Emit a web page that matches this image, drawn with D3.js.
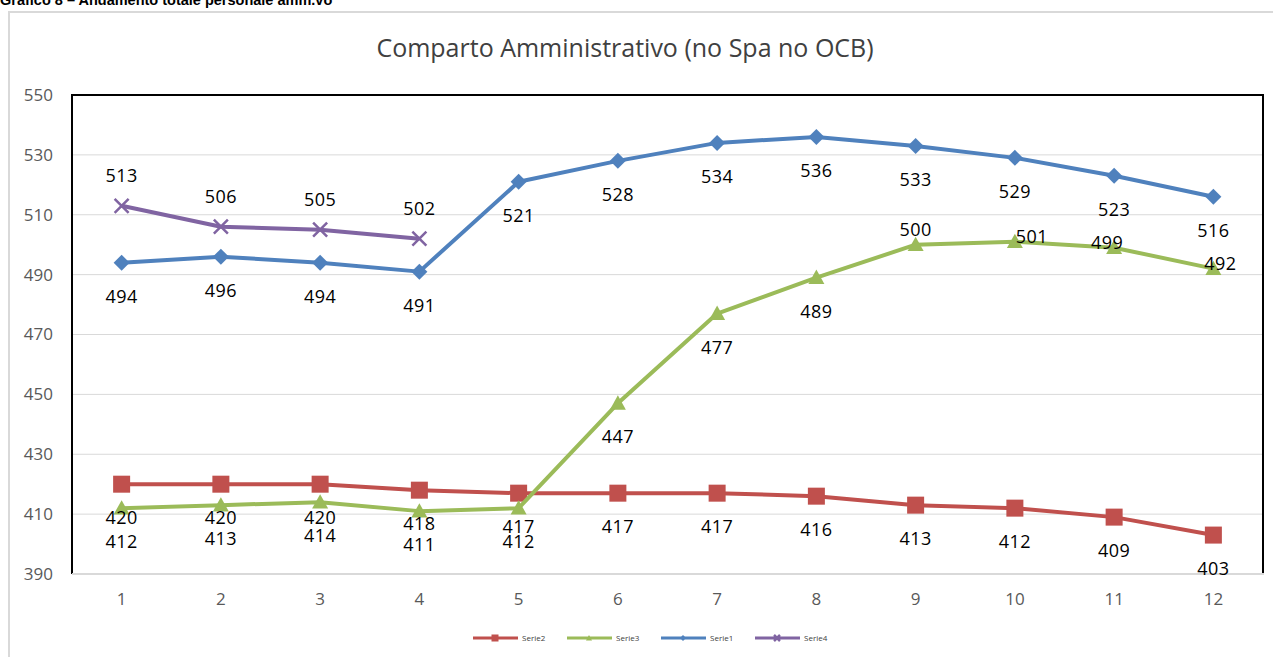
<!DOCTYPE html>
<html>
<head>
<meta charset="utf-8">
<script src="https://cdn.jsdelivr.net/npm/d3@7"></script>
<style>
  body { margin: 0; background: #fff; }
  svg { display: block; }
</style>
</head>
<body>
<svg id="chart" width="1273" height="657"></svg>
<script>
// categories and series
var categories = [1, 2, 3, 4, 5, 6, 7, 8, 9, 10, 11, 12];
var serie1 = [494, 496, 494, 491, 521, 528, 534, 536, 533, 529, 523, 516];
var serie2 = [420, 420, 420, 418, 417, 417, 417, 416, 413, 412, 409, 403];
var serie3 = [412, 413, 414, 411, 412, 447, 477, 489, 500, 501, 499, 492];
var serie4 = [513, 506, 505, 502];
var yTicks = [390, 410, 430, 450, 470, 490, 510, 530, 550];

var series = [
  { name: "Serie2", values: serie2, color: "#C0504D", marker: "square" },
  { name: "Serie3", values: serie3, color: "#9BBB59", marker: "triangle" },
  { name: "Serie1", values: serie1, color: "#4F81BD", marker: "diamond" },
  { name: "Serie4", values: serie4, color: "#8064A2", marker: "cross" }
];

var svg = d3.select("#chart");
var font = "'Open Sans', 'DejaVu Sans', sans-serif";

// page header, cut at the top
svg.append("text")
  .attr("x", 0).attr("y", 5)
  .attr("font-family", "'Liberation Sans', Arial, sans-serif")
  .attr("font-weight", "bold")
  .attr("font-size", 14.5)
  .text("Grafico 8 \u2013 Andamento totale personale amm.vo");

// outer chart frame
svg.append("path")
  .attr("d", "M9,657V12H1273")
  .attr("fill", "none")
  .attr("stroke", "#d9d9d9")
  .attr("stroke-width", 2);

var plot = { left: 72, right: 1263, top: 95, bottom: 574 };

var x = d3.scaleBand().domain(categories).range([plot.left, plot.right]);
var y = d3.scaleLinear().domain([390, 550]).range([plot.bottom, plot.top]);
var cx = function(i) { return x(categories[i]) + x.bandwidth() / 2; };

// title
svg.append("text")
  .attr("x", 625).attr("y", 57)
  .attr("text-anchor", "middle")
  .attr("font-family", font)
  .attr("font-size", 25)
  .attr("fill", "#404040")
  .text("Comparto Amministrativo (no Spa no OCB)");

// gridlines
svg.append("g")
  .selectAll("line")
  .data(yTicks.slice(1, -1))
  .enter().append("line")
  .attr("x1", plot.left).attr("x2", plot.right)
  .attr("y1", d => y(d)).attr("y2", d => y(d))
  .attr("stroke", "#d9d9d9").attr("stroke-width", 1);

// y axis labels
var yAxis = d3.axisLeft(y).tickValues(yTicks).tickSize(0).tickPadding(19);
svg.append("g")
  .attr("transform", "translate(" + plot.left + ",0)")
  .call(yAxis)
  .call(g => g.select(".domain").remove())
  .selectAll("text")
  .attr("font-family", font).attr("font-size", 17).attr("fill", "#595959");

// x axis
var xAxis = d3.axisBottom(x).tickSize(0).tickPadding(19);
svg.append("g")
  .attr("transform", "translate(0," + plot.bottom + ")")
  .call(xAxis)
  .call(g => g.select(".domain").remove())
  .selectAll("text")
  .attr("font-family", font).attr("font-size", 17).attr("fill", "#595959");

// plot border: black top/left/right, grey bottom
svg.append("path")
  .attr("d", "M" + plot.left + "," + plot.bottom + "V" + plot.top + "H" + plot.right + "V" + plot.bottom)
  .attr("fill", "none").attr("stroke", "#000").attr("stroke-width", 2);
svg.append("line")
  .attr("x1", plot.left).attr("x2", plot.right + 1)
  .attr("y1", plot.bottom).attr("y2", plot.bottom)
  .attr("stroke", "#d9d9d9").attr("stroke-width", 2);

function drawMarker(g, type, color, size) {
  var s = size / 2;
  if (type == "square") {
    g.append("rect").attr("x", -s).attr("y", -s).attr("width", size).attr("height", size).attr("fill", color);
  } else if (type == "diamond") {
    g.append("path").attr("d", "M0," + (-s) + "L" + s + ",0L0," + s + "L" + (-s) + ",0Z").attr("fill", color);
  } else if (type == "triangle") {
    g.append("path").attr("d", "M0," + (-s) + "L" + s + "," + (s * 0.8) + "L" + (-s) + "," + (s * 0.8) + "Z").attr("fill", color);
  } else {
    g.append("path").attr("d", "M" + (-s) + "," + (-s) + "L" + s + "," + s + "M" + s + "," + (-s) + "L" + (-s) + "," + s)
      .attr("stroke", color).attr("stroke-width", 2.5).attr("fill", "none");
  }
}

var line = d3.line().x((d, i) => cx(i)).y(d => y(d));

series.forEach(function(s) {
  var g = svg.append("g");
  g.append("path")
    .datum(s.values)
    .attr("d", line)
    .attr("fill", "none")
    .attr("stroke", s.color)
    .attr("stroke-width", 4)
    .attr("stroke-linejoin", "round");
  s.values.forEach(function(v, i) {
    var m = g.append("g").attr("transform", "translate(" + cx(i) + "," + y(v) + ")");
    var size = s.marker == "square" ? 17 : (s.marker == "cross" ? 14 : 16);
    drawMarker(m, s.marker, s.color, size);
  });
});

// data labels (Excel put most below the point, Serie4 above, last Serie3 ones on the point)
series.forEach(function(s) {
  svg.append("g")
    .selectAll("text")
    .data(s.values)
    .enter().append("text")
    .attr("x", function(d, i) {
      if (s.name == "Serie3" && i == 9) return cx(i) + 17;
      if (s.name == "Serie3" && i == 10) return cx(i) - 7;
      if (s.name == "Serie3" && i == 11) return cx(i) + 7;
      return cx(i);
    })
    .attr("y", function(d, i) {
      if (s.name == "Serie4") return y(d) - 24;
      if (s.name == "Serie3" && i == 8) return y(d) - 9;
      if (s.name == "Serie3" && i > 8) return y(d) + 1;
      return y(d) + 40;
    })
    .attr("text-anchor", "middle")
    .attr("font-family", font).attr("font-size", 18).attr("letter-spacing", 0.5).attr("fill", "#000")
    .text(d => d);
});

// legend
var legendX = [473, 567, 661, 755];
var legend = svg.append("g").attr("transform", "translate(0,638)");
series.forEach(function(s, i) {
  var g = legend.append("g").attr("transform", "translate(" + legendX[i] + ",0)");
  g.append("line").attr("x1", 0).attr("x2", 45).attr("y1", 0).attr("y2", 0)
    .attr("stroke", s.color).attr("stroke-width", 3);
  var m = g.append("g").attr("transform", "translate(22,0)");
  drawMarker(m, s.marker, s.color, s.marker == "square" ? 7 : 6);
  g.append("text").attr("x", 49).attr("y", 3)
    .attr("font-family", font).attr("font-size", 8).attr("fill", "#404040")
    .text(s.name);
});
</script>
</body>
</html>
